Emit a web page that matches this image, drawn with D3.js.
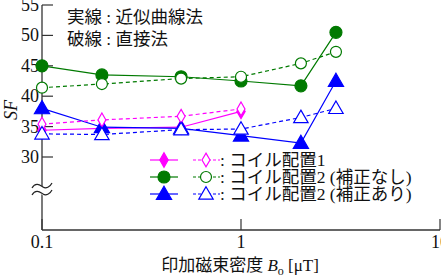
<!DOCTYPE html>
<html>
<head>
<meta charset="utf-8">
<script src="https://cdn.jsdelivr.net/npm/d3@7"></script>
<style>
  body { margin: 0; background: #fff; }
  svg text { font-family: "Liberation Serif", "Noto Sans CJK JP", serif; fill: #111; }
</style>
</head>
<body>
<svg id="chart" width="441" height="278"></svg>
<script>
// B_o [uT]
const fields = [0.1, 0.2, 0.5, 1, 2, 3];
const yTicks = [30, 35, 40, 45, 50, 55];
const xTicks = [0.1, 1, 10];

// SF values
const coil1Fit = [34.4, 34.7, 34.9, 37.5];
const coil1Direct = [35.4, 36.1, 36.7, 37.9];
const coil2Fit = [45.0, 43.5, 43.2, 42.5, 41.7, 50.5];
const coil2Direct = [41.4, 42.0, 42.9, 43.2, 45.4, 47.3];
const coil2CorrFit = [38.0, 34.9, 34.7, 33.5, 32.3, 42.5];
const coil2CorrDirect = [33.8, 33.7, 34.5, 34.6, 36.5, 38.0];

const legendLabels = [': コイル配置1', ': コイル配置2 (補正なし)', ': コイル配置2 (補正あり)'];

const series = [
  { name: 'c1', values: coil1Fit, color: '#ff00ff', shape: 'diamond', filled: true },
  { name: 'c2', values: coil2Fit, color: '#007a00', shape: 'circle', filled: true },
  { name: 'c3', values: coil2CorrFit, color: '#0000ff', shape: 'triangle', filled: true },
  { name: 'c1d', values: coil1Direct, color: '#ff00ff', shape: 'diamond', filled: false },
  { name: 'c2d', values: coil2Direct, color: '#007a00', shape: 'circle', filled: false },
  { name: 'c3d', values: coil2CorrDirect, color: '#0000ff', shape: 'triangle', filled: false }
];

const svg = d3.select('#chart');

const left = 42, right = 440, axisBottom = 230;
const x = d3.scaleLog().domain([0.1, 10]).range([left, right]);
const y = d3.scaleLinear().domain([30, 55]).range([157, 5]);

// axes
svg.append('line').attr('x1', left).attr('x2', left).attr('y1', y(55)).attr('y2', axisBottom)
  .attr('stroke', '#333').attr('stroke-width', 1.3);
svg.append('line').attr('x1', left).attr('x2', right).attr('y1', axisBottom).attr('y2', axisBottom)
  .attr('stroke', '#333').attr('stroke-width', 1.3);

svg.selectAll('.ytick').data(yTicks).enter().append('line')
  .attr('x1', left).attr('x2', left + 11)
  .attr('y1', d => y(d)).attr('y2', d => y(d))
  .attr('stroke', '#333').attr('stroke-width', 1.2);
svg.selectAll('.ylab').data(yTicks).enter().append('text')
  .attr('x', left - 3).attr('y', d => y(d) + 6)
  .attr('text-anchor', 'end').attr('font-size', 18)
  .text(d => d);

svg.selectAll('.xtick').data(xTicks).enter().append('line')
  .attr('x1', d => x(d)).attr('x2', d => x(d))
  .attr('y1', axisBottom).attr('y2', axisBottom - 11)
  .attr('stroke', '#333').attr('stroke-width', 1.2);
svg.selectAll('.xlab').data(xTicks).enter().append('text')
  .attr('x', d => x(d)).attr('y', 248)
  .attr('text-anchor', 'middle').attr('font-size', 18)
  .text(d => d);

// axis break
const brk = svg.append('g').attr('transform', 'translate(' + left + ',189)');
brk.append('path').attr('d', 'M-10,-1 C-5,-9 0,-1 3,-1 C6,-1 8,-6 10,-7 L10,1 C8,2 6,7 3,7 C0,7 -5,-1 -10,7 Z')
  .attr('fill', '#fff');
brk.append('path').attr('d', 'M-10,-1 C-6,-8 -1,-3 1,-2 C4,0 8,-2 10,-6').attr('fill', 'none').attr('stroke', '#222').attr('stroke-width', 1.2);
brk.append('path').attr('d', 'M-10,6 C-6,-1 -1,4 1,5 C4,7 8,5 10,1').attr('fill', 'none').attr('stroke', '#222').attr('stroke-width', 1.2);

// axis titles
const xt = svg.append('text').attr('x', 240).attr('y', 271).attr('text-anchor', 'middle').attr('font-size', 17);
xt.append('tspan').text('印加磁束密度 ');
xt.append('tspan').attr('font-style', 'italic').text('B');
xt.append('tspan').attr('font-size', 12).attr('dy', 4).text('o');
xt.append('tspan').attr('dy', -4).text(' [μT]');

svg.append('text').attr('transform', 'translate(17,110) rotate(-90)')
  .attr('text-anchor', 'middle').attr('font-size', 18).attr('font-style', 'italic').text('SF');

svg.append('text').attr('x', 67).attr('y', 23).attr('font-size', 17.5).text('実線 : 近似曲線法');
svg.append('text').attr('x', 67).attr('y', 45).attr('font-size', 17.5).text('破線 : 直接法');

// markers
function drawMarker(g, shape, cx, cy, color, filled) {
  let m;
  if (shape === 'circle') {
    m = g.append('circle').attr('cx', cx).attr('cy', cy).attr('r', filled ? 6 : 5.5);
  } else if (shape === 'diamond') {
    m = g.append('path').attr('d', d3.symbol(d3.symbolDiamond, filled ? 60 : 55)())
      .attr('transform', 'translate(' + cx + ',' + cy + ')');
  } else {
    m = g.append('path').attr('d', d3.symbol(d3.symbolTriangle, filled ? 100 : 90)())
      .attr('transform', 'translate(' + cx + ',' + (cy + 1) + ')');
  }
  m.attr('fill', filled ? color : '#fff').attr('stroke', color).attr('stroke-width', 1.2);
}

const line = d3.line().x((d, i) => x(fields[i])).y(d => y(d));
const plot = svg.append('g');
series.forEach(s => {
  plot.append('path').datum(s.values).attr('d', line)
    .attr('fill', 'none').attr('stroke', s.color).attr('stroke-width', 1.2)
    .attr('stroke-dasharray', s.filled ? null : '4,3');
});
series.forEach(s => {
  s.values.forEach((v, i) => drawMarker(plot, s.shape, x(fields[i]), y(v), s.color, s.filled));
});

// legend
const legRows = [160, 177, 194];
const legend = svg.append('g');
[0, 1, 2].forEach(i => {
  const fit = series[i], dir = series[i + 3], ly = legRows[i];
  legend.append('line').attr('x1', 150).attr('x2', 178).attr('y1', ly).attr('y2', ly)
    .attr('stroke', fit.color).attr('stroke-width', 1.2);
  drawMarker(legend, fit.shape, 164, ly, fit.color, true);
  legend.append('line').attr('x1', 193).attr('x2', 220).attr('y1', ly).attr('y2', ly)
    .attr('stroke', dir.color).attr('stroke-width', 1.2).attr('stroke-dasharray', '3,2');
  drawMarker(legend, dir.shape, 206, ly, dir.color, false);
  legend.append('text').attr('x', 220).attr('y', ly + 6).attr('font-size', 17.5).text(legendLabels[i]);
});
</script>
</body>
</html>
